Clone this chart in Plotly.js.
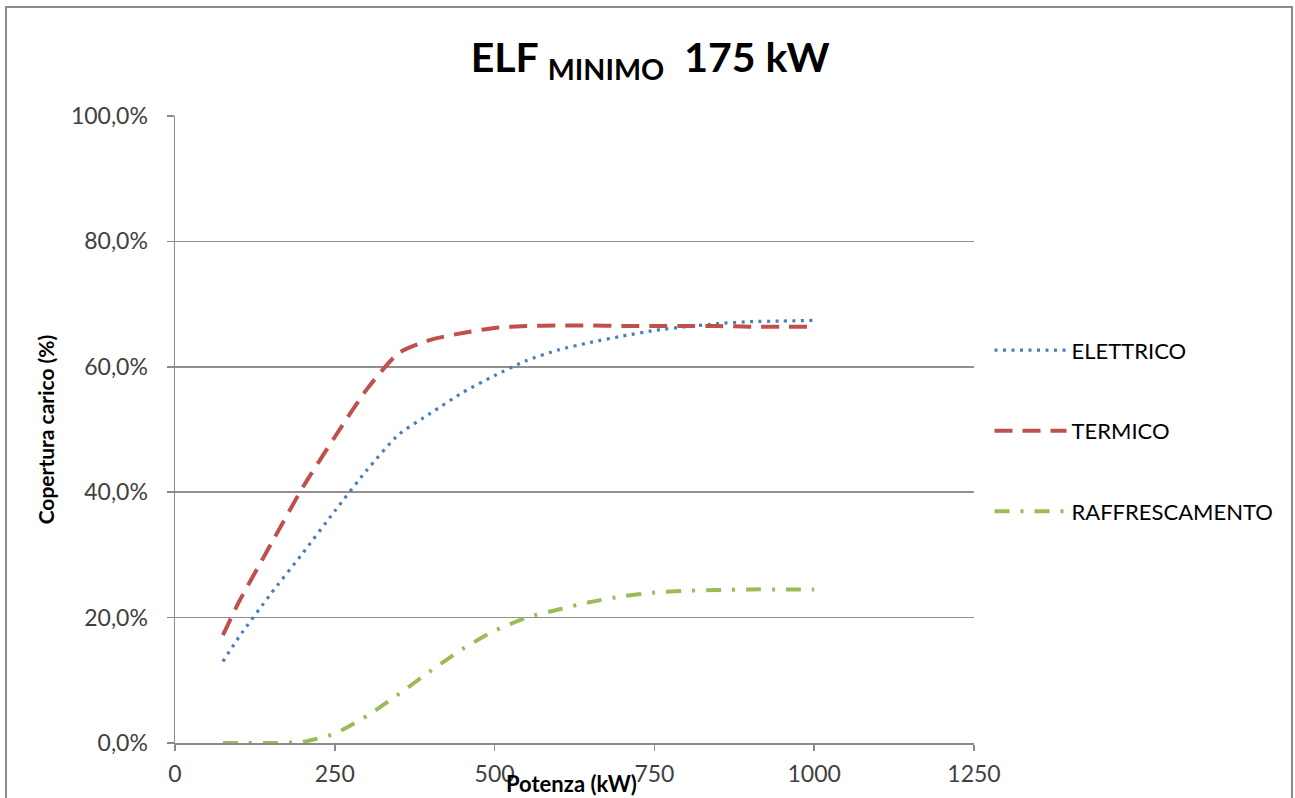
<!DOCTYPE html>
<html>
<head>
<meta charset="utf-8">
<script src="https://cdn.plot.ly/plotly-3.0.1.min.js"></script>
<style>
html,body{margin:0;padding:0;background:#fff;overflow:hidden;}
#chart{width:1295px;height:798px;}
#frame{position:absolute;left:5px;top:6px;width:1284px;height:900px;border:2px solid #8a8a8a;pointer-events:none;}
</style>
</head>
<body>
<div id="chart"></div>
<div id="frame"></div>
<script>
const potenza = [75, 100, 150, 200, 250, 300, 350, 400, 450, 500, 550, 600, 650, 700, 750, 800, 850, 900, 950, 1000];
const elettrico = [13.0, 16.9, 23.8, 30.3, 37.0, 43.5, 49.2, 52.6, 55.9, 58.6, 61.0, 62.7, 63.9, 64.9, 65.8, 66.4, 66.9, 67.2, 67.3, 67.4];
const termico = [17.2, 22.5, 31.7, 40.8, 48.8, 56.4, 62.2, 64.3, 65.4, 66.2, 66.5, 66.6, 66.6, 66.5, 66.5, 66.5, 66.5, 66.4, 66.4, 66.4];
const raffrescamento = [0.0, 0.0, 0.0, 0.2, 1.5, 4.3, 7.8, 11.5, 15.0, 17.9, 20.0, 21.3, 22.5, 23.4, 24.0, 24.3, 24.4, 24.5, 24.5, 24.5];
const seriesNames = ['ELETTRICO', 'TERMICO', 'RAFFRESCAMENTO'];
const xTicks = [0, 250, 500, 750, 1000, 1250];
const yTicks = [0, 20, 40, 60, 80, 100];
const yTickLabels = yTicks.map(v => v.toFixed(1).replace('.', ',') + '%');

const font = 'Lato, "Open Sans", "Liberation Sans", sans-serif';

const traces = [
  {x: potenza, y: elettrico, name: seriesNames[0], legendgroup: 'a', mode: 'lines',
   line: {color: '#4A7EBB', width: 3.2, dash: '3px,5.5px', shape: 'spline', smoothing: 0.6}},
  {x: potenza, y: termico, name: seriesNames[1], legendgroup: 'b', mode: 'lines',
   line: {color: '#C0504D', width: 4, dash: '18px,10px', shape: 'spline', smoothing: 0.6}},
  {x: potenza, y: raffrescamento, name: seriesNames[2], legendgroup: 'c', mode: 'lines',
   line: {color: '#9BBB59', width: 4, dash: '15px,11px,3px,11px', shape: 'spline', smoothing: 0.6}}
];

const layout = {
  width: 1295, height: 798,
  paper_bgcolor: '#fff', plot_bgcolor: '#fff',
  margin: {l: 175, r: 321, t: 116, b: 55},
  font: {family: font, color: '#404040', size: 18},
  title: {
    text: '<b>ELF <sub>MINIMO</sub>  175 kW</b>',
    font: {family: font, size: 41, color: '#000'},
    x: 0.502, xref: 'container', y: 0.928, yref: 'container', xanchor: 'center', yanchor: 'middle'
  },
  xaxis: {
    range: [0, 1250], tickvals: xTicks, ticktext: xTicks.map(String),
    showgrid: false, zeroline: false, showline: true, linecolor: '#8a8a8a', linewidth: 1.5,
    ticks: 'outside', ticklen: 6, tickcolor: '#8a8a8a', tickwidth: 1.5, ticklabelstandoff: 4,
    tickfont: {family: font, size: 23, color: '#404040'}
  },
  yaxis: {
    range: [0, 100], tickvals: yTicks, ticktext: yTickLabels,
    showgrid: true, gridcolor: '#909090', gridwidth: 1.5, zeroline: false,
    showline: true, linecolor: '#8a8a8a', linewidth: 1.5,
    ticks: 'outside', ticklen: 7, tickcolor: '#8a8a8a', tickwidth: 1.5, ticklabelstandoff: 14,
    tickfont: {family: font, size: 23, color: '#404040'},
    title: {text: '<b>Copertura carico (%)</b>', font: {family: font, size: 21, color: '#000'}, standoff: 10}
  },
  annotations: [{
    text: '<b>Potenza (kW)</b>', xref: 'paper', yref: 'paper', x: 0.496, y: 0,
    xanchor: 'center', yanchor: 'top', yshift: -25, showarrow: false,
    font: {family: font, size: 22, color: '#000'}
  }],
  legend: {
    x: 0.0194 + 1, xanchor: 'left', y: 0.498, yanchor: 'middle',
    font: {family: font, size: 22, color: '#000'},
    traceorder: 'grouped', tracegroupgap: 49, itemwidth: 72, bgcolor: 'rgba(0,0,0,0)'
  },
  showlegend: true
};

Plotly.newPlot('chart', traces, layout, {displayModeBar: false, staticPlot: true});
</script>
</body>
</html>
